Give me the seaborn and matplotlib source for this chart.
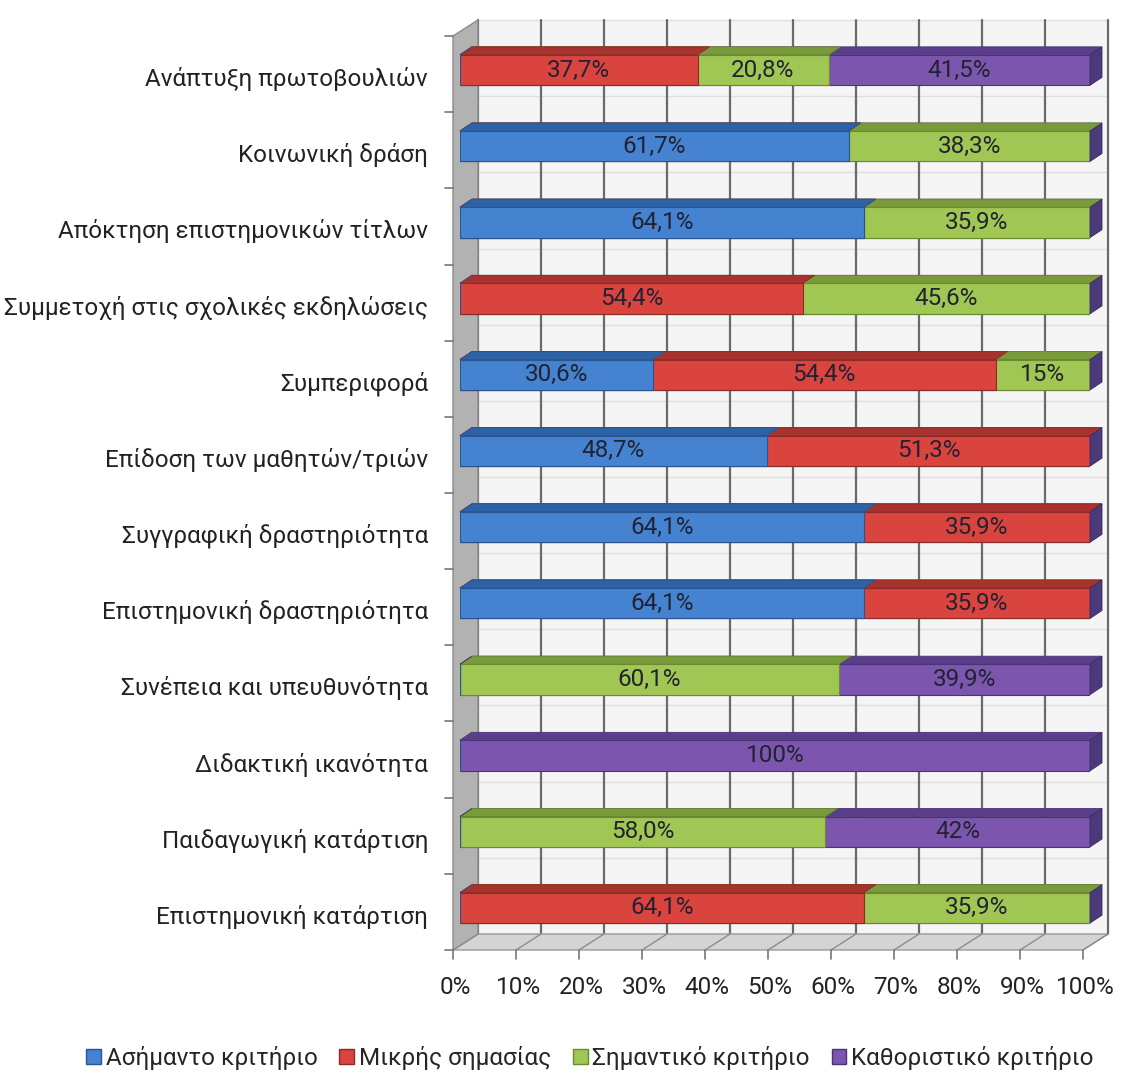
import numpy as np
import pandas as pd
import matplotlib
matplotlib.use("Agg")
import matplotlib.pyplot as plt
import seaborn as sns
from matplotlib.patches import Polygon, Patch
from matplotlib.transforms import ScaledTranslation

categories = ["Ανάπτυξη πρωτοβουλιών", "Κοινωνική δράση", "Απόκτηση επιστημονικών τίτλων",
              "Συμμετοχή στις σχολικές εκδηλώσεις", "Συμπεριφορά", "Επίδοση των μαθητών/τριών",
              "Συγγραφική δραστηριότητα", "Επιστημονική δραστηριότητα", "Συνέπεια και υπευθυνότητα",
              "Διδακτική ικανότητα", "Παιδαγωγική κατάρτιση", "Επιστημονική κατάρτιση"]
series_names = ["Ασήμαντο κριτήριο", "Μικρής σημασίας", "Σημαντικό κριτήριο", "Καθοριστικό κριτήριο"]

asimanto = [0, 61.7, 64.1, 0, 30.6, 48.7, 64.1, 64.1, 0, 0, 0, 0]
mikris = [37.7, 0, 0, 54.4, 54.4, 51.3, 35.9, 35.9, 0, 0, 0, 64.1]
simantiko = [20.8, 38.3, 35.9, 45.6, 15, 0, 0, 0, 60.1, 0, 58.0, 35.9]
kathoristiko = [41.5, 0, 0, 0, 0, 0, 0, 0, 39.9, 100, 42, 0]

asimanto_labels = ["", "61,7%", "64,1%", "", "30,6%", "48,7%", "64,1%", "64,1%", "", "", "", ""]
mikris_labels = ["37,7%", "", "", "54,4%", "54,4%", "51,3%", "35,9%", "35,9%", "", "", "", "64,1%"]
simantiko_labels = ["20,8%", "38,3%", "35,9%", "45,6%", "15%", "", "", "", "60,1%", "", "58,0%", "35,9%"]
kathoristiko_labels = ["41,5%", "", "", "", "", "", "", "", "39,9%", "100%", "42%", ""]

xticks = [0, 10, 20, 30, 40, 50, 60, 70, 80, 90, 100]

face_colors = ["#4583D0", "#D9443E", "#A0C653", "#7C56AE"]
top_colors = ["#2D62A6", "#A8322E", "#7A9B3A", "#5A3E8A"]
edge_colors = ["#2A5590", "#8E2A26", "#6A8A30", "#4A3275"]

sns.set_style("white")
plt.rcParams["font.family"] = ["Roboto", "DejaVu Sans"]
FS = 17.5

values = np.array([asimanto, mikris, simantiko, kathoristiko])
labels = [asimanto_labels, mikris_labels, simantiko_labels, kathoristiko_labels]
cum = values.cumsum(axis=0)

fig = plt.figure(figsize=(11.32, 10.81), dpi=100)
ax = fig.add_axes([460 / 1132, 1 - 946 / 1081, 630 / 1132, 914 / 1081])
ax.set_xlim(0, 100)
ax.set_ylim(len(categories) - 0.5, -0.5)
ax.axis("off")

# depth offsets in pixels (relative to the front face of the bars)
FLOOR = (-7, -4)
BARBACK = (12, 8)
WALL = (18, 12)
BAR_H = 0.40


def shift(x, y, d):
    pts = ax.transData.transform(np.column_stack([x, y]))
    pts = pts + np.array(d)
    return ax.transData.inverted().transform(pts)


def poly(pts, **kw):
    ax.add_patch(Polygon(pts, closed=True, clip_on=False, **kw))


top, bottom = -0.5, len(categories) - 0.5

# back wall + grid
wall = shift([0, 100, 100, 0], [top, top, bottom, bottom], WALL)
poly(wall, facecolor="#f5f5f5", edgecolor="none", zorder=0)
for b in np.arange(top, bottom + 1):
    p = shift([0, 100], [b, b], WALL)
    ax.plot(p[:, 0], p[:, 1], color="#dedede", lw=1, zorder=0.5, clip_on=False)
for t in xticks:
    p = shift([t, t], [top, bottom], WALL)
    ax.plot(p[:, 0], p[:, 1], color="#6a6a6a", lw=1.6, zorder=0.6, clip_on=False)

# floor
f_front = shift([0, 100], [bottom, bottom], FLOOR)
f_back = shift([100, 0], [bottom, bottom], WALL)
poly(np.vstack([f_front, f_back]), facecolor="#d4d4d4", edgecolor="#9a9a9a", lw=1, zorder=0.7)
for t in xticks:
    a = shift([t], [bottom], FLOOR)[0]
    b = shift([t], [bottom], WALL)[0]
    ax.plot([a[0], b[0]], [a[1], b[1]], color="#8c8c8c", lw=1, zorder=0.8, clip_on=False)

# left wall
lw_front = shift([0, 0], [top, bottom], FLOOR)
lw_back = shift([0, 0], [bottom, top], WALL)
poly(np.vstack([lw_front, lw_back]), facecolor="#b2b2b2", edgecolor="#8a8a8a", lw=1, zorder=0.9)

# stacked bars: draw cumulative totals from longest to shortest
for i in range(len(series_names) - 1, -1, -1):
    sns.barplot(x=cum[i], y=categories, orient="h", color=face_colors[i], width=BAR_H,
                saturation=1, edgecolor=edge_colors[i], linewidth=0.8, zorder=3, ax=ax)
    for j in range(len(categories)):
        x1 = cum[i][j]
        yt = j - BAR_H / 2
        front = np.array([[0, yt], [x1, yt]])
        back = shift([x1, 0], [yt, yt], BARBACK)
        poly(np.vstack([front, back]), facecolor=top_colors[i], edgecolor=edge_colors[i], lw=0.6, zorder=3)

# right end faces
for j in range(len(categories)):
    yt, yb = j - BAR_H / 2, j + BAR_H / 2
    front = np.array([[100, yb], [100, yt]])
    back = shift([100, 100], [yt, yb], BARBACK)
    poly(np.vstack([front, back]), facecolor="#4B3A7A", edgecolor="#3a2c60", lw=0.6, zorder=3)

ax.set_xlim(0, 100)
ax.set_ylim(bottom, top)
ax.set_xlabel("")
ax.set_ylabel("")

# value labels
for i in range(len(series_names)):
    for j in range(len(categories)):
        if labels[i][j]:
            xc = cum[i][j] - values[i][j] / 2
            ax.text(xc, j, labels[i][j], ha="center", va="center", fontsize=FS,
                    color="#222233", zorder=5)

# category labels and ticks
off_y = ax.get_yaxis_transform() + ScaledTranslation(-32 / 100, -9 / 100, fig.dpi_scale_trans)
for j, c in enumerate(categories):
    ax.text(0, j, c, transform=off_y, ha="right", va="center", fontsize=FS, color="#222222")
for b in np.arange(top, bottom + 1):
    a = shift([0], [b], FLOOR)[0]
    e = shift([0], [b], (FLOOR[0] - 8, FLOOR[1]))[0]
    ax.plot([a[0], e[0]], [a[1], e[1]], color="#777777", lw=1.2, clip_on=False, zorder=1)

off_x = ax.get_xaxis_transform() + ScaledTranslation(-5 / 100, -42 / 100, fig.dpi_scale_trans)
for t in xticks:
    ax.text(t, 0, f"{t}%", transform=off_x, ha="center", va="center", fontsize=FS, color="#222222")
    a = shift([t], [bottom], FLOOR)[0]
    e = shift([t], [bottom], (FLOOR[0], FLOOR[1] - 9))[0]
    ax.plot([a[0], e[0]], [a[1], e[1]], color="#777777", lw=1.2, clip_on=False, zorder=1)

handles = [Patch(facecolor=face_colors[i], edgecolor=edge_colors[i], label=series_names[i])
           for i in range(len(series_names))]
fig.legend(handles=handles, loc="center", bbox_to_anchor=(590 / 1132, 1 - 1058 / 1081), ncol=4,
           frameon=False, fontsize=FS, handlelength=0.6, handleheight=0.6, handletextpad=0.2,
           columnspacing=0.9)

fig.savefig("out.png", dpi=100)
